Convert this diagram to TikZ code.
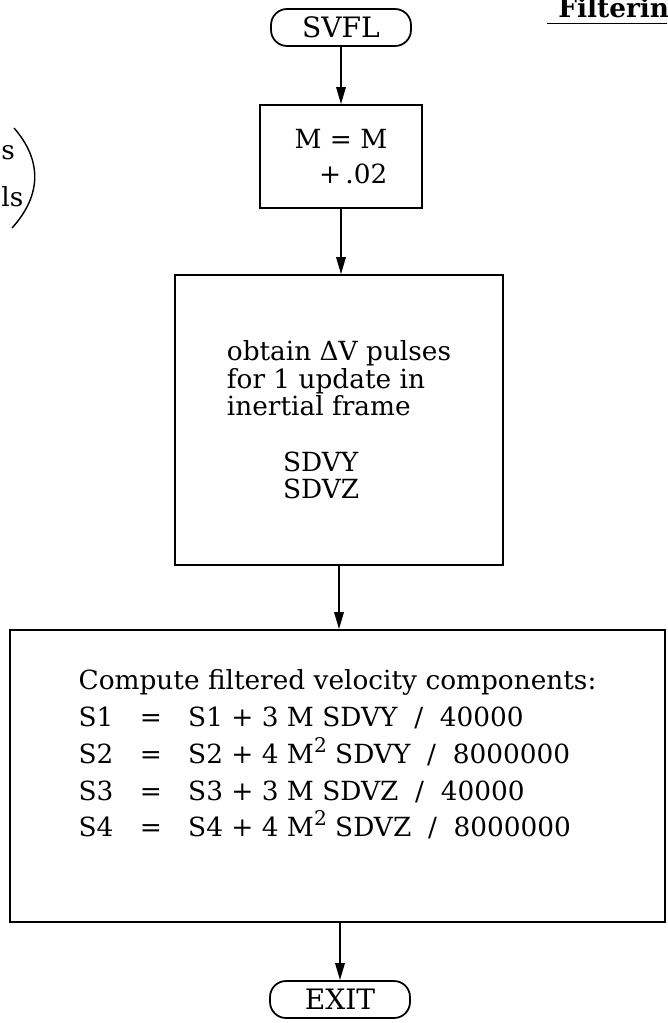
\documentclass[tikz,border=0pt]{standalone}
\usepackage{fontspec}
\setmainfont{DejaVu Serif}
\usepackage{tikz}
\usetikzlibrary{arrows.meta}
\newcommand{\txt}{\fontsize{15}{15.6}\selectfont}
\newcommand{\bigtxt}{\fontsize{15}{21}\selectfont}
\newcommand{\sq}{\raisebox{0.42em}{\fontsize{11.5}{11.5}\selectfont 2}}
\tikzset{
  term/.style={draw, line width=1pt, rounded corners=0.32cm, minimum width=2.8cm,
               minimum height=0.74cm, font=\fontsize{16}{16}\selectfont},
  proc/.style={draw, line width=1pt, align=left, font=\txt},
  flow/.style={-{Triangle[length=0.34cm,width=0.19cm]}, line width=1pt},
}

\begin{document}
\begin{tikzpicture}[x=0.02cm, y=-0.02cm]
  \useasboundingbox (0,0) rectangle (667,1023);

  % Terminals
  \node[term] (svfl) at (341,27.5) {SVFL};
  \node[term] (exit) at (340,999.5) {EXIT};

  % Steps
  \node[proc, align=right, minimum width=3.24cm, minimum height=2.06cm]
    (incr) at (341,156.5) {M = M\\[4pt]+\,.02};
  \node[proc, minimum width=6.56cm, minimum height=5.8cm] (pulses) at (339,420)
    {obtain ΔV pulses\\for 1 update in\\inertial frame\\[16pt]
     \hspace*{32pt}SDVY\\\hspace*{32pt}SDVZ};
  \node[proc, font=\bigtxt, minimum width=13.1cm, minimum height=5.84cm] (filt) at (337.5,776)
    {Compute filtered velocity components:\\
     S1\quad=\quad S1 + 3 M SDVY\ \ /\ \ 40000\\
     S2\quad=\quad S2 + 4 M\sq\ SDVY\ \ /\ \ 8000000\\
     S3\quad=\quad S3 + 3 M SDVZ\ \ /\ \ 40000\\
     S4\quad=\quad S4 + 4 M\sq\ SDVZ\ \ /\ \ 8000000\\[5pt]\mbox{}};

  % Page fragments
  \node[anchor=base west, font=\fontsize{15}{15}\bfseries, inner xsep=0pt] (title) at (558,18) {Filterin};
  \draw[line width=1pt] ([xshift=-0.22cm, yshift=-0.11cm]title.base west) -- +(2.4cm,0);
  \node[anchor=base west, font=\txt, inner xsep=0pt] (frag1) at (1,160) {s};
  \node[anchor=base west, font=\txt, inner xsep=0pt] (frag2) at (1,207) {ls};
  \draw[line width=0.8pt] (14,128) .. controls (42,160) and (42,195) .. (12,228);

  % Flows
  \draw[flow] (svfl) -- (incr);
  \draw[flow] (incr.south) -- (pulses.north -| incr.south);
  \draw[flow] (pulses.south) -- (pulses.south |- filt.north);
  \draw[flow] (exit.north |- filt.south) -- (exit);

\end{tikzpicture}
\end{document}
